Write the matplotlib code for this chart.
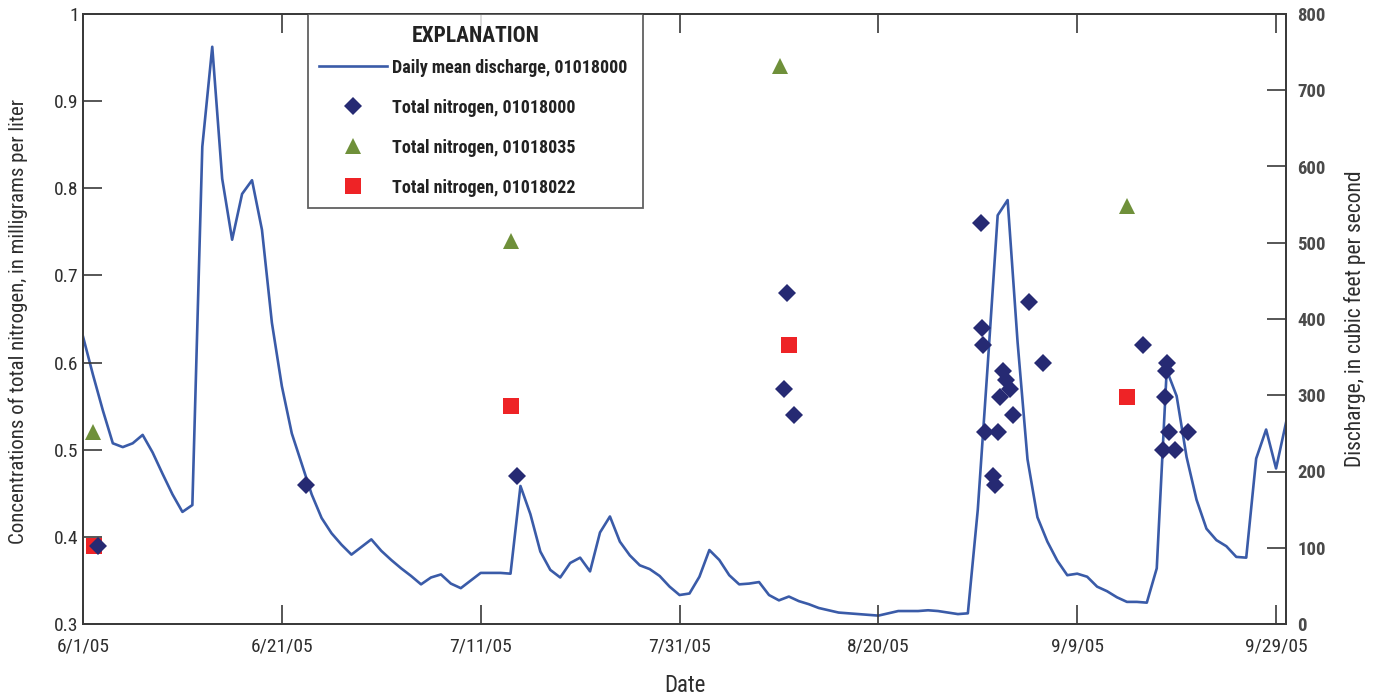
import matplotlib
matplotlib.use("Agg")
import matplotlib.pyplot as plt
import numpy as np
import pandas as pd
from matplotlib.lines import Line2D

plt.rcParams['font.family'] = ['Roboto Condensed', 'Roboto', 'DejaVu Sans']

# ---------------- data ----------------
start = pd.Timestamp('2005-06-01')

# daily mean discharge, 01018000 (cubic feet per second), 6/1/05 .. 9/30/05
discharge = [377, 327, 280, 237, 232, 237, 248, 225, 197, 170,
             147, 156, 626, 757, 584, 504, 564, 582, 517, 395,
             312, 250, 210, 170, 139, 119, 104, 91, 101, 111,
             96, 84, 73, 63, 52, 61, 65, 53, 47, 57,
             67, 67, 67, 66, 181, 144, 95, 71, 61, 80,
             87, 69, 120, 141, 108, 90, 77, 72, 63, 49,
             38, 40, 62, 97, 84, 64, 52, 53, 55, 38,
             31, 36, 30, 26, 21, 18, 15, 14, 13, 12,
             11, 14, 17, 17, 17, 18, 17, 15, 13, 14,
             150, 340, 536, 556, 370, 216, 140, 108, 83, 64,
             66, 62, 49, 43, 35, 29, 29, 28, 73, 333,
             299, 219, 163, 125, 110, 102, 88, 87, 217, 255,
             204, 264]
discharge_dates = pd.date_range('2005-06-01', periods=len(discharge), freq='D')

# total nitrogen, 01018000 (days after 6/1/05, mg/L)
tn_000_day = [1.5, 22.4, 43.7, 70.5, 70.8, 71.5,
              90.3, 90.4, 90.5, 90.7, 92.0, 91.5, 91.7, 92.5, 92.8, 93.2, 92.2, 93.5,
              95.2, 96.6, 106.6, 109.0, 108.9, 108.8, 109.2, 111.1, 108.6, 109.8]
tn_000_val = [0.39, 0.46, 0.47, 0.57, 0.68, 0.54,
              0.76, 0.64, 0.62, 0.52, 0.52, 0.47, 0.46, 0.59, 0.58, 0.57, 0.56, 0.54,
              0.67, 0.60, 0.62, 0.60, 0.59, 0.56, 0.52, 0.52, 0.50, 0.50]

# total nitrogen, 01018035
tn_035_day = [1.0, 43.0, 70.1, 105.0]
tn_035_val = [0.52, 0.74, 0.94, 0.78]

# total nitrogen, 01018022
tn_022_day = [1.1, 43.0, 71.0, 105.0]
tn_022_val = [0.39, 0.55, 0.62, 0.56]

left_ticks = [0.3, 0.4, 0.5, 0.6, 0.7, 0.8, 0.9, 1.0]
left_labels = ['0.3', '0.4', '0.5', '0.6', '0.7', '0.8', '0.9', '1']
right_ticks = [0, 100, 200, 300, 400, 500, 600, 700, 800]
x_tick_labels = ['6/1/05', '6/21/05', '7/11/05', '7/31/05', '8/20/05', '9/9/05', '9/29/05']

# ---------------- styles ----------------
line_color = '#3a5ba8'
diamond_color = '#262a73'
tri_color = '#6f903a'
sq_color = '#ee2326'
spine_color = '#3a3a3a'
text_color = '#2e2e2e'


def to_dates(days):
    return [start + pd.Timedelta(days=float(d)) for d in days]


W, H = 1377, 696
fig = plt.figure(figsize=(W / 100, H / 100), dpi=100)
ax = fig.add_axes([83 / W, 1 - 624 / H, (1286 - 83) / W, (624 - 14) / H])
ax2 = ax.twinx()

# discharge on right axis (drawn beneath markers)
ax2.plot(discharge_dates, discharge, color=line_color, lw=1.9, zorder=1)
ax2.set_ylim(0, 800)
ax.set_zorder(ax2.get_zorder() + 1)
ax.patch.set_visible(False)

ax.plot(to_dates(tn_022_day), tn_022_val, linestyle='none', marker='s', ms=11.5,
        color=sq_color, mew=0, zorder=2)
ax.plot(to_dates(tn_000_day), tn_000_val, linestyle='none', marker='D', ms=9,
        color=diamond_color, mew=0, zorder=3)
ax.plot(to_dates(tn_035_day), tn_035_val, linestyle='none', marker='^', ms=11,
        color=tri_color, mew=0, zorder=3)

ax.set_ylim(0.3, 1.0)
ax.set_xlim(start, start + pd.Timedelta(days=121))

xt = [start + pd.Timedelta(days=20 * i) for i in range(len(x_tick_labels))]
ax.set_xticks(xt)
ax.set_xticklabels(x_tick_labels)
ax.set_yticks(left_ticks)
ax.set_yticklabels(left_labels)
ax2.set_yticks(right_ticks)
ax2.set_yticklabels([str(t) for t in right_ticks], fontweight='bold', color='#4a4a4a')

ax.tick_params(axis='x', direction='in', length=14, width=1.2, color=spine_color,
               top=True, labelsize=14, pad=10, labelcolor=text_color)
ax.tick_params(axis='y', direction='in', length=14, width=1.2, color=spine_color,
               labelsize=14, pad=3, labelcolor=text_color)
ax2.tick_params(axis='y', direction='in', length=14, width=1.2, color=spine_color,
                labelsize=13.5, pad=8)

for a in (ax, ax2):
    for s in a.spines.values():
        s.set_color(spine_color)
        s.set_linewidth(1.3)

yc = 1 - 321 / H
fig.text(18 / W, yc, 'Concentrations of total nitrogen, in milligrams per liter',
         rotation=90, ha='center', va='center', fontsize=15, color=text_color)
fig.text(1355 / W, 1 - 319 / H, 'Discharge, in cubic feet per second',
         rotation=90, ha='center', va='center', fontsize=15.5, color=text_color)
fig.text(685 / W, 1 - 686 / H, 'Date', ha='center', va='center', fontsize=16.5,
         color=text_color)

handles = [
    Line2D([], [], color=line_color, lw=1.9),
    Line2D([], [], linestyle='none', marker='D', ms=9, color=diamond_color, mew=0),
    Line2D([], [], linestyle='none', marker='^', ms=11, color=tri_color, mew=0),
    Line2D([], [], linestyle='none', marker='s', ms=11.5, color=sq_color, mew=0),
]
labels = ['Daily mean discharge, 01018000', 'Total nitrogen, 01018000',
          'Total nitrogen, 01018035', 'Total nitrogen, 01018022']
x0 = (308 - 83) / 1203
x1 = (643 - 83) / 1203
leg_fs = 13.0
leg = ax.legend(handles, labels, loc='upper left', bbox_to_anchor=(x0, 0.0, x1 - x0, 1.0),
                mode='expand', borderaxespad=0,
                title='EXPLANATION', frameon=True, fancybox=False,
                prop={'weight': 'bold', 'size': leg_fs}, handlelength=3.8,
                labelspacing=1.22, borderpad=0.6, handletextpad=0.25,
                title_fontproperties={'weight': 'bold', 'size': 15.5})
leg._legend_box.sep = 8.5
leg.get_frame().set_edgecolor(spine_color)
leg.get_frame().set_linewidth(1.3)
for t in leg.get_texts():
    t.set_color('#222222')
leg.get_title().set_color('#222222')

fig.savefig('out.png', dpi=100)
